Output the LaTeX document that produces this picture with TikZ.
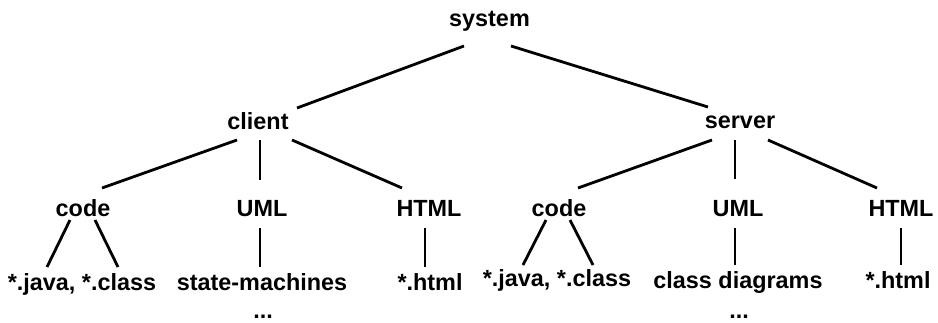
\documentclass[tikz,border=0pt]{standalone}
\usepackage{fontspec}
\setmainfont{Liberation Sans}
\begin{document}
\begin{tikzpicture}[x=0.5pt,y=-0.5pt,
  lbl/.style={anchor=base,inner sep=0pt,font=\fontsize{11.7}{13}\selectfont\bfseries},
  link/.style={line width=1.4pt,line cap=butt}]
\useasboundingbox (0,0) rectangle (938,322);
\node[lbl] (system) at (489.5,26) {system};
\node[lbl] (client) at (258,129) {client};
\node[lbl] (server) at (740,128) {server};
\node[lbl] (codeL) at (83,216) {code};
\node[lbl] (umlL) at (262,216) {UML};
\node[lbl] (htmlL) at (429,216) {HTML};
\node[lbl] (javaL) at (82,290) {*.java, *.class};
\node[lbl] (stateL) at (262,290) {state-machines};
\node[lbl] (htmlfL) at (430,290) {*.html};
\node[lbl] (dotsL) at (263,318) {...};
\node[lbl] (codeR) at (559,216) {code};
\node[lbl] (umlR) at (738,216) {UML};
\node[lbl] (htmlR) at (901,216) {HTML};
\node[lbl] (javaR) at (557,286) {*.java, *.class};
\node[lbl] (classR) at (738,288) {class diagrams};
\node[lbl] (htmlfR) at (898,288) {*.html};
\node[lbl] (dotsR) at (739,318) {...};
\draw[link] ([shift={(-25.5,20)}]system.base) -- ([shift={(39,-21)}]client.base);
\draw[link] ([shift={(21.5,20)}]system.base) -- ([shift={(-32,-21)}]server.base);
\draw[link] ([shift={(-21,11)}]client.base) -- ([shift={(19,-28)}]codeL.base);
\draw[link] ([shift={(2,11)}]client.base) -- ([shift={(-2,-36)}]umlL.base);
\draw[link] ([shift={(34,11)}]client.base) -- ([shift={(-27,-28)}]htmlL.base);
\draw[link] ([shift={(-28,12)}]server.base) -- ([shift={(19,-28)}]codeR.base);
\draw[link] ([shift={(-5,12)}]server.base) -- ([shift={(-3,-37)}]umlR.base);
\draw[link] ([shift={(28,12)}]server.base) -- ([shift={(-24,-28)}]htmlR.base);
\draw[link] ([shift={(-13,4)}]codeL.base) -- ([shift={(-35,-23)}]javaL.base);
\draw[link] ([shift={(12,4)}]codeL.base) -- ([shift={(36,-23)}]javaL.base);
\draw[link] ([shift={(-2,12)}]umlL.base) -- ([shift={(-2,-23)}]stateL.base);
\draw[link] ([shift={(-4,12)}]htmlL.base) -- ([shift={(-5,-23)}]htmlfL.base);
\draw[link] ([shift={(-13,4)}]codeR.base) -- ([shift={(-34,-21)}]javaR.base);
\draw[link] ([shift={(11,4)}]codeR.base) -- ([shift={(36,-21)}]javaR.base);
\draw[link] ([shift={(-3,12)}]umlR.base) -- ([shift={(-3,-23)}]classR.base);
\draw[link] ([shift={(0,12)}]htmlR.base) -- ([shift={(3,-23)}]htmlfR.base);
\end{tikzpicture}
\end{document}
